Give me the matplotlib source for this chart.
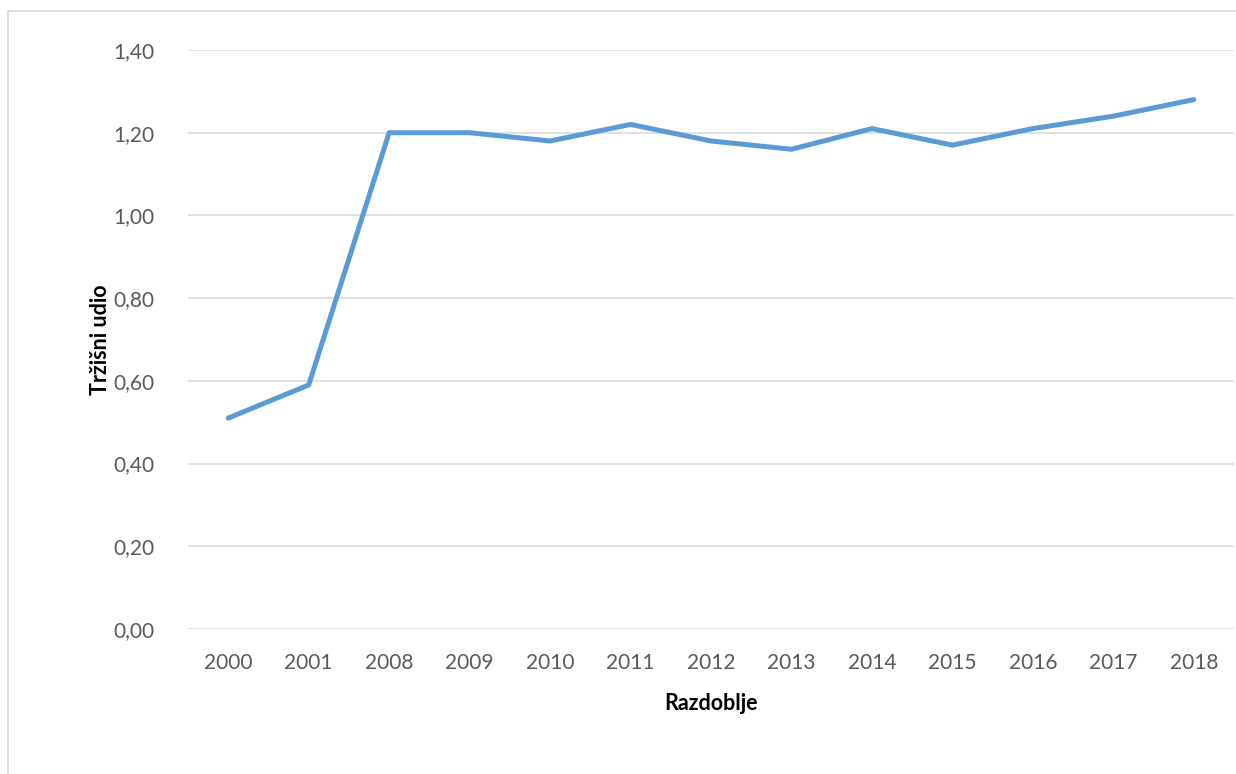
import matplotlib.pyplot as plt
from matplotlib.patches import Rectangle

years = ['2000', '2001', '2008', '2009', '2010', '2011', '2012',
         '2013', '2014', '2015', '2016', '2017', '2018']
udio = [0.51, 0.59, 1.20, 1.20, 1.18, 1.22, 1.18, 1.16, 1.21, 1.17, 1.21, 1.24, 1.28]
y_ticks = [0.0, 0.2, 0.4, 0.6, 0.8, 1.0, 1.2, 1.4]

plt.rcParams['font.family'] = ['Lato', 'DejaVu Sans']

fig = plt.figure(figsize=(12.36, 7.74), dpi=100)
ax = fig.add_axes([188 / 1236, 1 - 629 / 774, 1046 / 1236, (629 - 50) / 774])

# okvir grafikona
fig.patches.append(Rectangle((8 / 1236, -0.01), 1.2, 1 - 11 / 774 + 0.01,
                             transform=fig.transFigure, fill=False,
                             edgecolor='#d9d9d9', linewidth=1.2))

x = range(len(years))
ax.plot(x, udio, color='#5b9bd5', linewidth=3.6, solid_capstyle='round',
        solid_joinstyle='round')

ax.set_xlim(-0.5, len(years) - 0.5)
ax.set_ylim(0, 1.4)
ax.set_yticks(y_ticks)
ax.set_yticklabels([f'{v:.2f}'.replace('.', ',') for v in y_ticks])
ax.set_xticks(list(x))
ax.set_xticklabels(years)

ax.grid(axis='y', color='#d9d9d9', linewidth=1.1)
ax.set_axisbelow(True)
for s in ax.spines.values():
    s.set_visible(False)
ax.tick_params(length=0, labelsize=15, labelcolor='#595959')
ax.tick_params(axis='y', pad=24)
ax.tick_params(axis='x', pad=17)

ax.set_xlabel('Razdoblje', fontsize=15.5, fontweight='bold', labelpad=15)
ax.set_ylabel('Tržišni udio', fontsize=15.5, fontweight='bold', labelpad=2)

fig.savefig('out.png', dpi=100)
